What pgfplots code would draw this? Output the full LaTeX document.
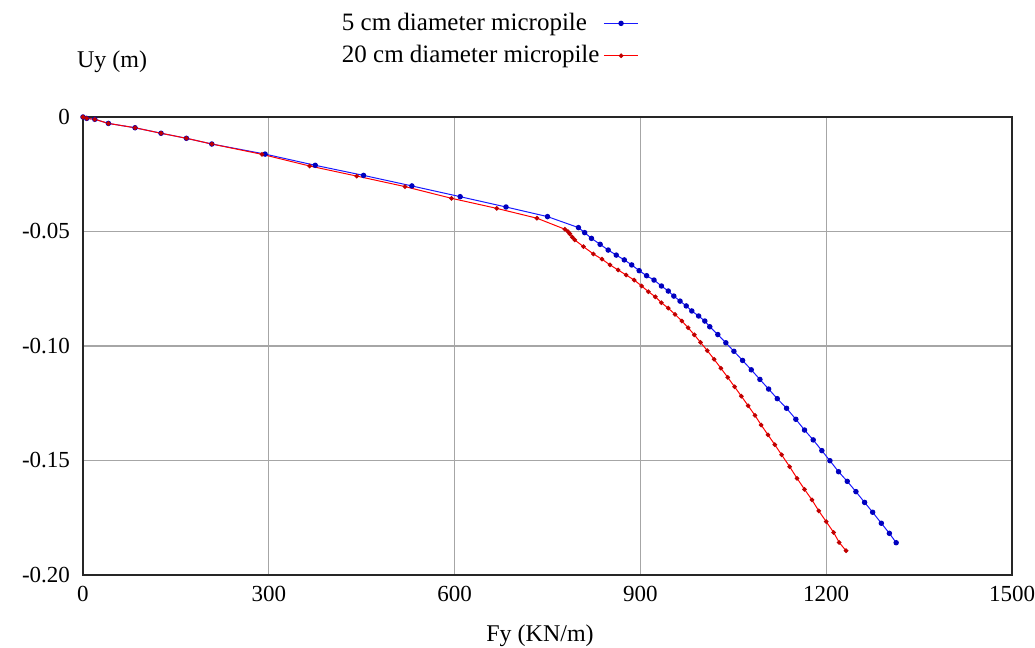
\documentclass[border=0pt]{standalone}
\usepackage{pgfplots}
\pgfplotsset{compat=1.18}
\usepackage{fontspec}
\setmainfont{Liberation Serif}
\begin{document}
\begin{tikzpicture}
\path[use as bounding box] (-41.5pt,-36.5pt) rectangle (476pt,287.5pt);
\begin{axis}[
  at={(0,0)}, anchor=south west,
  scale only axis, width=464.5pt, height=229pt,
  xmin=0, xmax=1500, ymin=-0.2, ymax=0,
  xtick={0,300,600,900,1200,1500},
  xticklabels={0,300,600,900,1200,1500},
  ytick={-0.2,-0.15,-0.1,-0.05,0},
  yticklabels={-0.20,-0.15,-0.10,-0.05,0},
  major tick length=0pt,
  grid=major,
  grid style={gray!70, line width=0.7pt},
  axis line style={black!85, line width=0.7pt},
  tick label style={font=\fontsize{11.5}{13}\selectfont},
  yticklabel style={xshift=-3pt},
  xticklabel style={yshift=-2pt},
  xlabel={Fy (KN/m)},
  xlabel style={at={(axis description cs:0.492,-0.133)}, anchor=center, font=\fontsize{12}{14}\selectfont},
  ylabel={Uy (m)},
  ylabel style={rotate=-90, at={(axis description cs:-0.014,1.12)}, anchor=west, font=\fontsize{12}{14}\selectfont},
  legend style={at={(axis description cs:0.605,1.245)}, anchor=north east, draw=none, fill=none,
    font=\fontsize{12.5}{14}\selectfont, row sep=2pt},
  legend cell align=left,
  legend plot pos=right,
]
\addplot[blue!90, line width=0.5pt, mark=*, mark size=1.1pt, mark options={fill=blue!75!black, draw=blue!75!black}] coordinates {
(0,0) (6,-0.0006) (19,-0.0010) (41,-0.0028) (84,-0.0047) (126,-0.0071) (167,-0.0093) (208,-0.0118)
(294,-0.0162) (375,-0.0211) (453,-0.0255) (531,-0.0301) (609,-0.0348) (683,-0.0393) (750,-0.0435)
(800,-0.0483) (810,-0.0505) (821,-0.0530) (835,-0.0556) (848,-0.0581) (861,-0.0603) (874,-0.0624)
(886,-0.0646) (898,-0.0671) (910,-0.0693) (922,-0.0712) (934,-0.0738) (945,-0.0760) (954,-0.0782)
(964,-0.0804) (974,-0.0825) (983,-0.0847) (994,-0.0869) (1004,-0.0891) (1012,-0.0916)
(1025,-0.0950) (1038,-0.0986) (1051,-0.1023) (1065,-0.1063) (1079,-0.1104) (1093,-0.1146)
(1107,-0.1188) (1121,-0.1230) (1136,-0.1272) (1151,-0.1320) (1165,-0.1367) (1179,-0.1410)
(1193,-0.1457) (1206,-0.1501) (1220,-0.1549) (1234,-0.1591) (1248,-0.1636) (1262,-0.1683)
(1275,-0.1726) (1289,-0.1774) (1302,-0.1818) (1313,-0.1859)
};
\addlegendentry{5 cm diameter micropile}
\addplot[red, line width=0.5pt, mark=*, mark size=0.9pt, mark options={fill=red!75!black, draw=red!75!black}] coordinates {
(0,0) (6,-0.0006) (19,-0.0010) (41,-0.0028) (84,-0.0047) (126,-0.0071) (167,-0.0093) (208,-0.0118)
(289,-0.0163) (366,-0.0214) (442,-0.0258) (520,-0.0304) (595,-0.0355) (668,-0.0399) (733,-0.0442)
(778,-0.0490) (783,-0.0500) (786,-0.0510) (790,-0.0525) (794,-0.0537) (808,-0.0566) (824,-0.0598)
(838,-0.0621) (851,-0.0646) (864,-0.0668) (877,-0.0690) (890,-0.0712) (902,-0.0738) (913,-0.0763)
(924,-0.0785) (934,-0.0811) (945,-0.0835) (956,-0.0862) (967,-0.0891) (977,-0.0920)
(987,-0.0951) (997,-0.0984) (1008,-0.1020) (1019,-0.1058) (1030,-0.1097) (1041,-0.1137)
(1052,-0.1178) (1063,-0.1219) (1074,-0.1261) (1085,-0.1303) (1095,-0.1345) (1106,-0.1388)
(1117,-0.1431) (1128,-0.1475) (1141,-0.1527) (1153,-0.1578) (1165,-0.1626) (1177,-0.1672)
(1188,-0.1720) (1200,-0.1767) (1212,-0.1814) (1221,-0.1858) (1232,-0.1894)
};
\addlegendentry{20 cm diameter micropile}
\end{axis}
\end{tikzpicture}
\end{document}
